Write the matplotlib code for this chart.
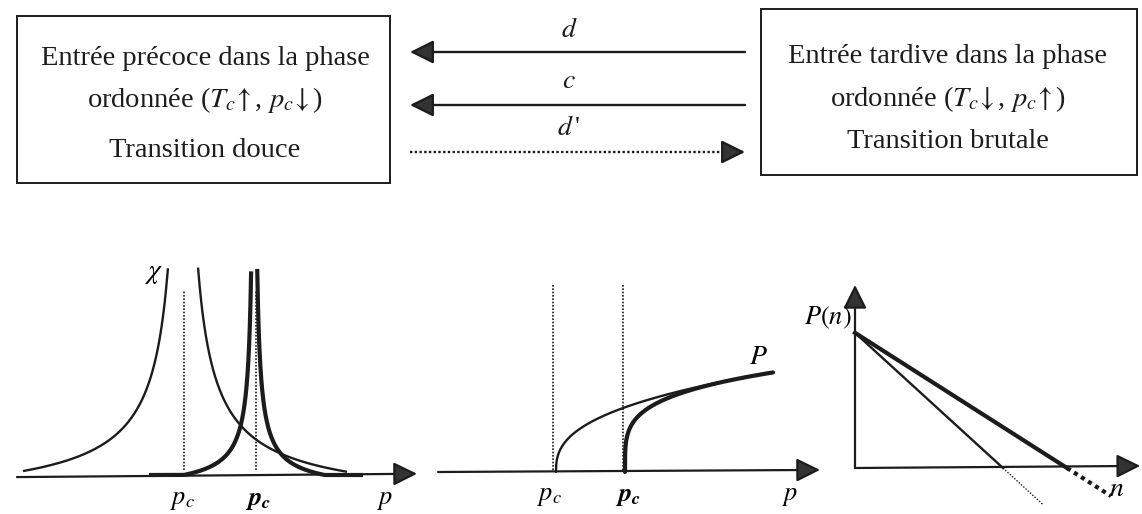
import numpy as np
import matplotlib
matplotlib.use("Agg")
import matplotlib.pyplot as plt
from matplotlib.patches import Rectangle

W, H = 1142, 514
INK = "#1c1c1c"
HEAD = "#333333"

plt.rcParams["font.family"] = ["Liberation Serif", "DejaVu Serif"]
plt.rcParams["mathtext.fontset"] = "stix"

# ---- data -------------------------------------------------------------
early_text = ["Entrée précoce dans la phase",
              r"ordonnée ($T_c\!\uparrow$, $p_c\!\downarrow$)",
              "Transition douce"]
late_text = ["Entrée tardive dans la phase",
             r"ordonnée ($T_c\!\downarrow$, $p_c\!\uparrow$)",
             "Transition brutale"]
link_labels = ["$d$", "$c$", r"$d\,$'"]
link_to_early = [True, True, False]
link_dotted = [False, False, True]

# susceptibility chi(p) ~ A |p - pc|^-gamma - B   (panel units, 0..100)
chi_pc = [41.5, 59.3]              # early (thin) / late (thick)
chi_gamma = [0.8, 0.8]
chi_amp = [332.5, 86.3]
chi_shift = [15.5, 8.7]
chi_p_range = [(1.5, 82.5), (33.0, 86.5)]
chi_pc_marks = [41.75, 59.75]

# order parameter P(p) ~ a (p - pc)^beta
P_pc = [29.5, 46.75]
P_beta = [0.38, 0.24]
P_amp = [10.54, 20.12]
P_p_end = 83.75

# cluster size distribution, log P(n) straight lines
Pn_0 = 65.0
Pn_cut = [37.0, 53.0]
Pn_tail = [47.0, 64.0]

lw_thin, lw_thick = [1.7, 3.0]
BOLD_PC = r"$\mathbfit{p}_{\mathbfit{c}}$"


# ---- helpers ----------------------------------------------------------
def add_panel(fig, x0, y0, xmax, ymax, sx=4.0, sy=2.08):
    ax = fig.add_axes([x0 / W, (H - y0) / H, xmax * sx / W, ymax * sy / H])
    ax.set_xlim(0, xmax)
    ax.set_ylim(0, ymax)
    ax.axis("off")
    return ax


def arrow(ax, tip, tail, dotted=False, lw=1.5):
    if dotted:
        ax.plot([tail[0], tip[0]], [tail[1], tip[1]], color=INK, lw=lw,
                ls=(0, (1, 1)), clip_on=False)
        d = np.subtract(tip, tail)
        tail = np.asarray(tip) - d * 0.02
    ax.annotate("", xy=tip, xytext=tail, annotation_clip=False,
                arrowprops=dict(arrowstyle="-|>,head_length=1.45,head_width=0.72",
                                mutation_scale=10, fc=HEAD, ec=INK, lw=lw,
                                shrinkA=0, shrinkB=0))


fig = plt.figure(figsize=(W / 100, H / 100), dpi=100)

# ---- panel 1 : susceptibility ------------------------------------------
ax1 = add_panel(fig, 17, 475, 100, 100)
arrow(ax1, (100, 0.6), (0, -1.0), lw=1.6)
for k, (pc, g, a, b, (p0, p1)) in enumerate(zip(chi_pc, chi_gamma, chi_amp,
                                               chi_shift, chi_p_range)):
    p = np.linspace(p0, p1, 2000)
    chi = a * np.abs(p - pc) ** (-g) - b
    chi = np.clip(chi, 0, None)
    chi[chi > 100] = np.nan
    ax1.plot(p, chi, color=INK, lw=[lw_thin, lw_thick][k],
             solid_capstyle="butt", clip_on=False)
for x in chi_pc_marks:
    ax1.plot([x, x], [2.5, 89], color=INK, lw=1.2, ls=(0, (1, 1)))
ax1.text(34, 97, r"$\chi$", fontsize=20, ha="center", va="center")
ax1.text(41.5, -12.5, r"$p_c$", fontsize=19, ha="center", va="center")
ax1.text(60.3, -12.5, BOLD_PC, fontsize=19, ha="center", va="center")
ax1.text(92, -12.5, r"$p$", fontsize=19, ha="center", va="center")

# ---- panel 2 : order parameter -----------------------------------------
ax2 = add_panel(fig, 438, 472, 100, 100)
arrow(ax2, (95.5, 1.0), (0, 0), lw=1.6)
for k, (pc, bt, a) in enumerate(zip(P_pc, P_beta, P_amp)):
    p = np.linspace(pc, P_p_end, 2000)
    ax2.plot(p, a * (p - pc) ** bt, color=INK, lw=[lw_thin, lw_thick][k],
             solid_capstyle="round", clip_on=False)
for x in [28.75, 46.25]:
    ax2.plot([x, x], [1, 90], color=INK, lw=1.2, ls=(0, (1, 1)))
ax2.text(80, 55, r"$P$", fontsize=20, ha="center", va="center")
ax2.text(28, -12, r"$p_c$", fontsize=19, ha="center", va="center")
ax2.text(47.5, -12, BOLD_PC, fontsize=19, ha="center", va="center")
ax2.text(88, -12, r"$p$", fontsize=19, ha="center", va="center")

# ---- panel 3 : P(n) ----------------------------------------------------
ax3 = add_panel(fig, 855, 468, 72, 90)
arrow(ax3, (71.3, 1.0), (0, 0), lw=1.6)
arrow(ax3, (0, 88), (0, 0), lw=1.6)
for k, (cut, tail) in enumerate(zip(Pn_cut, Pn_tail)):
    slope = -Pn_0 / cut
    lw = [lw_thin, lw_thick][k]
    ax3.plot([0, cut], [Pn_0, 0], color=INK, lw=lw, clip_on=False)
    ax3.plot([cut, tail], [0, slope * (tail - cut)], color=INK,
             lw=[1.0, 3.0][k], ls=[(0, (1, 1.2)), (0, (1, 1))][k], clip_on=False)
ax3.text(-0.8, 72, r"$P(n)$", fontsize=19, ha="right", va="center")
ax3.text(65.5, -10.5, r"$n$", fontsize=20, ha="center", va="center")

# ---- top : boxes and arrows --------------------------------------------
top = fig.add_axes([0, 0, 1, 1])
top.set_xlim(0, W)
top.set_ylim(H, 0)
top.axis("off")
top.patch.set_visible(False)

top.add_patch(Rectangle((17, 16), 373, 167, fill=False, ec=INK, lw=1.4))
top.add_patch(Rectangle((761, 9), 376, 166, fill=False, ec=INK, lw=1.4))
for txt, yb in zip(early_text, [65, 107, 157]):
    top.text(205, yb, txt, fontsize=20.5, ha="center", va="baseline", color=INK)
for txt, yb in zip(late_text, [63, 106, 148]):
    top.text(948, yb, txt, fontsize=20.5, ha="center", va="baseline", color=INK)

for lab, to_early, dotted, y, yl in zip(link_labels, link_to_early, link_dotted,
                                       [52, 105, 152], [37, 88, 135]):
    tip, tail = ((410, y), (745, y)) if to_early else ((745, y), (410, y))
    arrow(top, tip, tail, dotted=dotted, lw=1.7)
    top.text(569, yl, lab, fontsize=20, ha="center", va="baseline", color=INK)

fig.savefig("out.png", dpi=100, facecolor="white")
